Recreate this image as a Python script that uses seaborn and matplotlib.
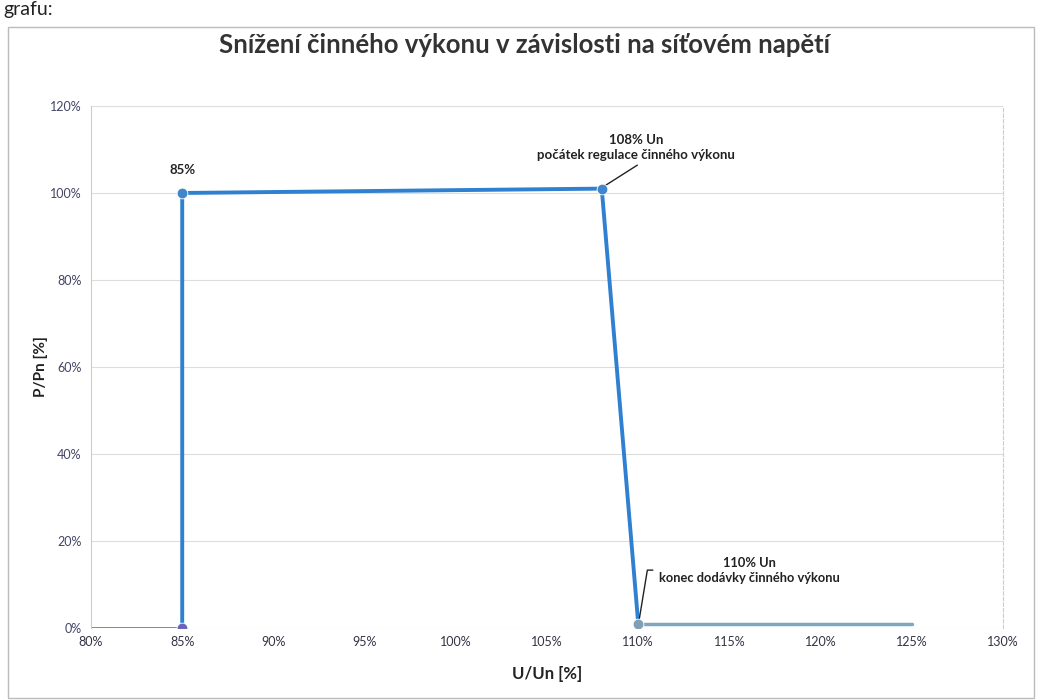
import seaborn as sns
import numpy as np
import pandas as pd
from matplotlib import pyplot as plt
from matplotlib.patches import Rectangle

# data (U/Un %, P/Pn %)
u_low = [80, 85]
p_low = [0, 0]
u_main = [85, 85, 108, 110]
p_main = [0, 100, 101, 1]
u_high = [110, 125]
p_high = [1, 1]
x_ticks = [80, 85, 90, 95, 100, 105, 110, 115, 120, 125, 130]
y_ticks = [0, 20, 40, 60, 80, 100, 120]

sns.set_style("white")
plt.rcParams['font.family'] = ['Lato', 'DejaVu Sans']

fig = plt.figure(figsize=(10.39, 7), dpi=100)
ax = fig.add_axes([0.0876, 0.1029, 0.8778, 0.7457])

df_low = pd.DataFrame({'u': u_low, 'p': p_low})
df_main = pd.DataFrame({'u': u_main, 'p': p_main})
df_high = pd.DataFrame({'u': u_high, 'p': p_high})

sns.lineplot(data=df_low, x='u', y='p', sort=False, estimator=None, color='#7b6fb8', lw=2, ax=ax)
sns.lineplot(data=df_high, x='u', y='p', sort=False, estimator=None, color='#7fa6bf', lw=2.5, ax=ax)
sns.lineplot(data=df_main, x='u', y='p', sort=False, estimator=None, color='#2f80d0', lw=2.8, ax=ax)
sns.scatterplot(x=[85], y=[0], color='#6a63b8', s=60, ax=ax, zorder=5)
sns.scatterplot(x=[85, 108], y=[100, 101], color='#3f86cc', s=60, ax=ax, zorder=5)
sns.scatterplot(x=[110], y=[1], color='#7f9fb4', s=60, ax=ax, zorder=5)

ax.set_xlim(80, 130)
ax.set_ylim(0, 120)
ax.set_xticks(x_ticks)
ax.set_yticks(y_ticks)
ax.set_xticklabels([f"{t}%" for t in x_ticks], fontsize=9, color='#333344')
ax.set_yticklabels([f"{t}%" for t in y_ticks], fontsize=9, color='#444466')
ax.tick_params(axis='x', length=0, pad=6)
ax.tick_params(axis='y', length=0, pad=7)
ax.grid(axis='y', color='#dddddd', lw=0.8)
ax.spines['top'].set_visible(False)
ax.spines['bottom'].set_visible(False)
ax.spines['left'].set_color('#cccccc')
ax.spines['right'].set_color('#cccccc')
ax.spines['right'].set_linestyle((0, (3, 2)))

ax.set_xlabel("U/Un [%]", fontsize=12, fontweight='bold', color='#222222', labelpad=13)
ax.set_ylabel("P/Pn [%]", fontsize=11, fontweight='bold', color='#222222', labelpad=1)

ax.text(85, 104, "85%", ha='center', va='bottom', fontsize=9.5, fontweight='bold', color='#222222')
ax.text(109.9, 110.5, "108% Un\npočátek regulace činného výkonu", ha='center', va='center',
        fontsize=9.5, fontweight='bold', color='#222222', linespacing=1.3)
ax.plot([108.15, 109.95], [101.6, 106.4], color='#222222', lw=1)
ax.text(116.1, 13.1, "110% Un\nkonec dodávky činného výkonu", ha='center', va='center',
        fontsize=9.3, fontweight='bold', color='#222222', linespacing=1.3)
ax.plot([110.04, 110.5, 110.8], [1.6, 13.3, 13.3], color='#222222', lw=1)

fig.suptitle("Snížení činného výkonu v závislosti na síťovém napětí", x=0.505, y=0.936,
             va='center', fontsize=18.5, fontweight='bold', color='#333333')
fig.text(0.003, 0.999, "grafu:", fontsize=14, va='top', ha='left', color='#222222')
fig.patches.append(Rectangle((0.008, 0.003), 0.987, 0.958, transform=fig.transFigure,
                             fill=False, edgecolor='#bbbbbb', lw=1))

plt.savefig("out.png", dpi=100)
